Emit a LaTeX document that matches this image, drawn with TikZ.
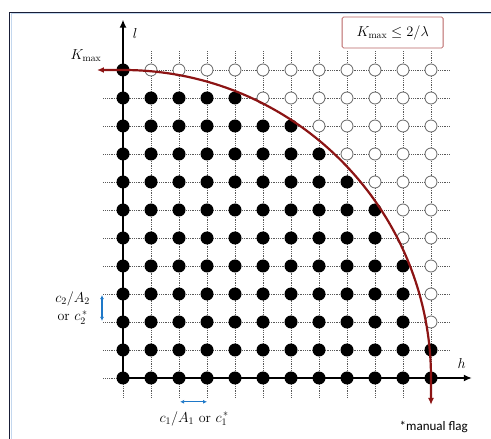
\documentclass[tikz,border=0pt]{standalone}
\usepackage{fontspec}
\newfontfamily\flagfont{Carlito}
\usetikzlibrary{arrows.meta,positioning}
\definecolor{curvered}{RGB}{140,20,20}
\definecolor{boxred}{RGB}{185,100,100}
\definecolor{stepblue}{RGB}{30,120,200}
\definecolor{framenavy}{RGB}{25,30,55}
\definecolor{frameblue}{RGB}{195,215,238}

\begin{document}
\begin{tikzpicture}[
    x=28pt, y=28pt,
    gridline/.style={densely dotted, black!65, line width=0.8pt},
    axis/.style={-{Latex[length=8pt,width=7pt]}, line width=2.4pt},
    fulldot/.style={circle, fill=black, inner sep=0pt, minimum size=13pt},
    opendot/.style={circle, draw=black!60, fill=white, line width=0.8pt,
      inner sep=0pt, minimum size=12pt},
    kmaxcurve/.style={{Latex[length=7pt,width=6pt]}-{Latex[length=7pt,width=6pt]},
      curvered, line width=2.2pt},
    steparrow/.style={{Latex[length=4pt,width=4pt]}-{Latex[length=4pt,width=4pt]},
      stepblue, line width=1.2pt},
    mathlabel/.style={font=\fontsize{14}{16}\selectfont, inner sep=1pt}
  ]
    \useasboundingbox (-4.393,-2.143) rectangle (13.143,13.5);
    % window frame
    \coordinate (frametl) at (-4.036,13.07);
    \coordinate (frametr) at (13.2,13.07);
    \coordinate (framebl) at (-4.036,-2.2);
    \draw[frameblue, line width=1.5pt] ([shift={(1.5pt,-1.5pt)}]framebl) -- ([shift={(1.5pt,-1.5pt)}]frametl) -- ([shift={(0pt,-1.5pt)}]frametr);
    \draw[framenavy, line width=1pt] (framebl) -- (frametl) -- (frametr);
    % grid
    \foreach \i in {0,...,11} {
      \draw[gridline] (\i,-0.7) -- (\i,11.7);
      \draw[gridline] (-0.7,\i) -- (11.7,\i);
    }
    % axes
    \coordinate (origin) at (0,0);
    \coordinate (ltip) at (0,12.8);
    \coordinate (htip) at (12.46,0);
    \draw[axis] (origin) -- (ltip);
    \draw[axis] (origin) -- (htip);
    \node[mathlabel] (llabel) at (0.43,12.32) {$l$};
    \node[mathlabel] (hlabel) at (12.1,0.5) {$h$};
    % lattice points
    \foreach \i in {0,...,11} {
      \foreach \j in {0,...,11} {
        \pgfmathtruncatemacro\inside{or(\i*\i+\j*\j<=121, and(\i==11,\j==1))}
        \ifnum\inside=1
          \node[fulldot] (d-\i-\j) at (\i,\j) {};
        \else
          \node[opendot] (d-\i-\j) at (\i,\j) {};
        \fi
      }
    }
    % cut-off curve
    \coordinate (kleft) at (-0.93,11);
    \coordinate (kbottom) at (11,-0.96);
    \draw[kmaxcurve] (kleft) -- (d-0-11.center)
      arc[start angle=90, end angle=0, radius=11] -- (kbottom);
    \node[mathlabel] (kmax) at (-1.32,11.5) {$K_{\max}$};
    \node[draw=boxred, line width=0.8pt, rounded corners=1.5pt, minimum width=101pt,
      minimum height=31pt, mathlabel] (kbound) at (9.63,12.34) {$K_{\max}\leq 2/\lambda$};
    % step sizes
    \coordinate (c2top) at (-0.75,2.96);
    \coordinate (c2bot) at (-0.75,2.04);
    \draw[steparrow] (c2top) -- (c2bot);
    \node[mathlabel, align=center] (c2label) at (-1.8,2.5) {$c_2/A_2$\\[2pt]or $c_2^{\,*}$};
    \coordinate (c1left) at (2.04,-0.85);
    \coordinate (c1right) at (3,-0.85);
    \draw[steparrow] (c1left) -- (c1right);
    \node[mathlabel] (c1label) at (2.54,-1.45) {$c_1/A_1$ or $c_1^{\,*}$};
    \node[font=\flagfont\fontsize{13}{15}\selectfont] (flag) at (11.1,-1.75) {*manual flag};
  \end{tikzpicture}
\end{document}
